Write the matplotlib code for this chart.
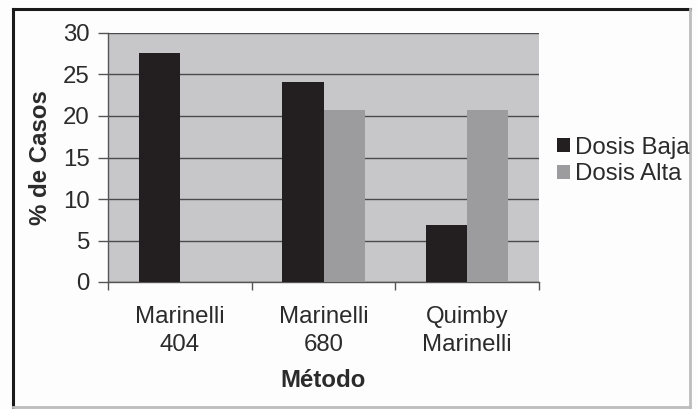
import matplotlib
matplotlib.use("Agg")
import matplotlib.pyplot as plt
from matplotlib.patches import Patch
from matplotlib.lines import Line2D
import numpy as np

plt.rcParams['font.family'] = ['Liberation Sans', 'DejaVu Sans']

categories = ["Marinelli\n404", "Marinelli\n680", "Quimby\nMarinelli"]
dosis_baja = [27.6, 24.1, 6.9]
dosis_alta = [0.0, 20.7, 20.7]
series_names = ["Dosis Baja", "Dosis Alta"]
y_ticks = [0, 5, 10, 15, 20, 25, 30]

W, H = 697, 409
DPI = 100
fig = plt.figure(figsize=(W / DPI, H / DPI), dpi=DPI, facecolor="#fdfdfd")

FS = 17.3
TEXT = "#2b2b2b"
BLACK = "#231f20"
GRAY = "#9c9c9e"
PLOT_BG = "#c7c7c9"

ax = fig.add_axes([108 / W, 1 - 282 / H, (539 - 108) / W, (282 - 33) / H])
ax.set_facecolor(PLOT_BG)

x = np.arange(len(categories))
w = 1 / 3.5
ax.bar(x - w / 2, dosis_baja, width=w, color=BLACK, zorder=3)
ax.bar(x + w / 2, dosis_alta, width=w, color=GRAY, zorder=3)

ax.set_xlim(-0.5, len(categories) - 0.5)
ax.set_ylim(0, 30)
ax.set_yticks(y_ticks)
ax.yaxis.grid(True, color="#4a4a4a", linewidth=1.0, zorder=1)
ax.set_axisbelow(True)

# category labels centred, tick marks on category boundaries
ax.set_xticks(x)
ax.set_xticklabels(categories, fontsize=FS, color=TEXT, linespacing=1.38)
ax.set_xticks(np.arange(-0.5, len(categories)), minor=True)
ax.tick_params(axis="x", which="major", length=0, pad=17)
ax.tick_params(axis="x", which="minor", length=6, color="#555555", width=1)
ax.tick_params(axis="y", length=7, color="#555555", width=1, labelsize=FS,
               labelcolor=TEXT, pad=6)

for side in ("top", "right"):
    ax.spines[side].set_visible(False)
for side in ("left", "bottom"):
    ax.spines[side].set_color("#555555")
    ax.spines[side].set_linewidth(1)

ax.set_ylabel("% de Casos", fontsize=FS, fontweight="bold", color=TEXT, labelpad=8)
ax.set_xlabel("Método", fontsize=FS, fontweight="bold", color=TEXT, labelpad=9)

handles = [Patch(facecolor=BLACK, edgecolor="none"), Patch(facecolor=GRAY, edgecolor="none")]
fig.legend(handles, series_names, loc="center left",
           bbox_to_anchor=(545 / W, 1 - 161 / H), frameon=False, fontsize=FS,
           handlelength=0.55, handleheight=0.55, handletextpad=0.2,
           labelspacing=0.2, borderpad=0.0, labelcolor=TEXT)

# sunken frame around the chart
l, r, t, b = 12.5 / W, 689.5 / W, 1 - 8.5 / H, 1 - 406.5 / H
fig.add_artist(Line2D([l, l], [b, t], color="#1a1a1a", lw=2.2, transform=fig.transFigure))
fig.add_artist(Line2D([l, r], [t, t], color="#1a1a1a", lw=2.2, transform=fig.transFigure))
fig.add_artist(Line2D([r, r], [b, t], color="#bdbdbd", lw=2.0, transform=fig.transFigure))
fig.add_artist(Line2D([l, r], [b, b], color="#bdbdbd", lw=2.0, transform=fig.transFigure))

fig.savefig("out.png", dpi=DPI, facecolor=fig.get_facecolor())
